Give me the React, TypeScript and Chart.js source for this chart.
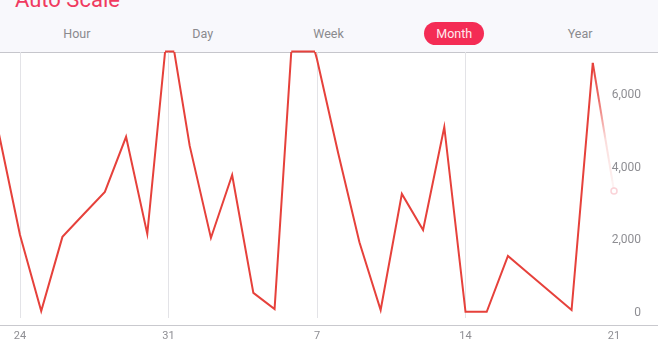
import React, { useEffect, useRef } from 'react';
import { Chart, registerables } from 'chart.js';

Chart.register(...registerables);

// ---- data ----
const days = [
  'Jul 23', 'Jul 24', 'Jul 25', 'Jul 26', 'Jul 27', 'Jul 28', 'Jul 29', 'Jul 30', 'Jul 31',
  'Aug 1', 'Aug 2', 'Aug 3', 'Aug 4', 'Aug 5', 'Aug 6', 'Aug 7', 'Aug 8', 'Aug 9', 'Aug 10',
  'Aug 11', 'Aug 12', 'Aug 13', 'Aug 14', 'Aug 15', 'Aug 16', 'Aug 17', 'Aug 18', 'Aug 19',
  'Aug 20', 'Aug 21',
];
const values = [
  4950, 2150, 60, 2100, 2720, 3335, 4850, 2180, 8150,
  4600, 2070, 3800, 560, 115, 9100, 6980, 4400, 1950, 90,
  3280, 2290, 5120, 40, 40, 1575, 1080, 585, 90,
  6880, 3360,
];
const xTickIndices = [1, 8, 15, 22, 29];
const xTickLabels = ['24', '31', '7', '14', '21'];
const yTickValues = [0, 2000, 4000, 6000];
const segmentLabels = ['Hour', 'Day', 'Week', 'Month', 'Year'];
const selectedSegment = 'Month';
const title = 'Auto Scale';

const LINE = '#e6413b';
const TICK = '#8e8e93';
const FONT = 'Roboto, "Noto Sans", sans-serif';
const LAST = values.length - 1;

const clampTopPlugin = {
  id: 'clampTop',
  afterDatasetsDraw(chart: any) {
    const { ctx, chartArea } = chart;
    const pts = chart.getDatasetMeta(0).data;
    const top = chartArea.top;
    ctx.save();
    ctx.beginPath();
    ctx.rect(chartArea.left, top - 3, chartArea.right - chartArea.left, 6);
    ctx.clip();
    ctx.strokeStyle = LINE;
    ctx.lineWidth = 2;
    ctx.beginPath();
    for (let i = 0; i < pts.length - 1; i++) {
      const a = pts[i];
      const b = pts[i + 1];
      const aAbove = a.y < top;
      const bAbove = b.y < top;
      if (!aAbove && !bAbove) continue;
      let x0 = a.x;
      let x1 = b.x;
      const cross = a.x + ((top - a.y) / (b.y - a.y)) * (b.x - a.x);
      if (!aAbove) x0 = cross;
      if (!bAbove) x1 = cross;
      ctx.moveTo(x0, top - 0.5);
      ctx.lineTo(x1, top - 0.5);
    }
    ctx.stroke();
    ctx.restore();
  },
};

export default function App() {
  const ref = useRef<HTMLCanvasElement | null>(null);

  useEffect(() => {
    const canvas = ref.current!;
    const c2d = canvas.getContext('2d')!;
    const chart = new Chart(canvas, {
      type: 'line',
      data: {
        datasets: [
          {
            data: values.map((v, i) => ({ x: i, y: v })),
            borderColor: LINE,
            borderWidth: 2,
            tension: 0,
            clip: 0,
            pointRadius: (c: any) => (c.dataIndex === LAST ? 3 : 0),
            pointBorderWidth: 1.5,
            pointBorderColor: 'rgba(240,110,125,0.3)',
            pointBackgroundColor: '#ffffff',
            segment: {
              borderColor: (sc: any) => {
                if (sc.p1DataIndex !== LAST) return undefined;
                const g = c2d.createLinearGradient(sc.p0.x, sc.p0.y, sc.p1.x, sc.p1.y);
                g.addColorStop(0, LINE);
                g.addColorStop(0.3, 'rgba(230,65,59,0.75)');
                g.addColorStop(0.6, 'rgba(230,65,59,0.18)');
                g.addColorStop(1, 'rgba(230,65,59,0.05)');
                return g;
              },
            },
          } as any,
        ],
      },
      options: {
        responsive: false,
        animation: false,
        events: [],
        layout: { autoPadding: false, padding: { top: 8, left: 0, right: 0, bottom: 0 } },
        plugins: { legend: { display: false }, tooltip: { enabled: false } },
        scales: {
          x: {
            type: 'linear',
            min: 0.0572,
            max: 31.074,
            afterBuildTicks: (s: any) => {
              s.ticks = xTickIndices.map((v) => ({ value: v }));
            },
            afterFit: (s: any) => {
              s.height = 24;
            },
            ticks: {
              autoSkip: false,
              maxRotation: 0,
              padding: 12,
              color: TICK,
              font: { family: FONT, size: 11 },
              callback: (v: any) => {
                const k = xTickIndices.indexOf(v);
                return k >= 0 ? xTickLabels[k] : '';
              },
            },
            grid: {
              drawTicks: false,
              color: (c: any) => (c.tick && c.tick.value === xTickIndices[xTickIndices.length - 1] ? 'rgba(0,0,0,0)' : '#e3e3e7'),
            },
            border: { display: false },
          },
          y: {
            position: 'right',
            min: -130,
            max: 7180,
            afterBuildTicks: (s: any) => {
              s.ticks = yTickValues.map((v) => ({ value: v }));
            },
            afterFit: (s: any) => {
              s.width = 0;
            },
            ticks: {
              mirror: true,
              padding: -17,
              color: TICK,
              font: { family: FONT, size: 12 },
              callback: (v: any) => Number(v).toLocaleString('en-US'),
            },
            grid: { display: false, drawTicks: false },
            border: { display: false },
          },
        },
      } as any,
      plugins: [clampTopPlugin],
    });
    return () => chart.destroy();
  }, []);

  return (
    <div
      style={{
        position: 'fixed',
        left: 0,
        top: 0,
        width: 658,
        height: 340,
        overflow: 'hidden',
        background: '#ffffff',
        fontFamily: FONT,
      }}
    >
      <div
        style={{
          position: 'absolute',
          left: 0,
          top: 0,
          width: 658,
          height: 52,
          background: '#f8f8fc',
          borderBottom: '1px solid #c6c6cc',
        }}
      >
        <div
          style={{
            position: 'absolute',
            left: 15,
            top: -11,
            fontSize: 22,
            lineHeight: '22px',
            color: '#f03a60',
            whiteSpace: 'nowrap',
          }}
        >
          {title}
        </div>
        <div
          style={{
            position: 'absolute',
            left: 14,
            top: 22,
            width: 629,
            height: 23,
            display: 'flex',
          }}
        >
          {segmentLabels.map((s) => (
            <div
              key={s}
              style={{ flex: 1, display: 'flex', alignItems: 'center', justifyContent: 'center' }}
            >
              <div
                style={{
                  height: 23,
                  lineHeight: '23px',
                  padding: s === selectedSegment ? '0 12px' : 0,
                  borderRadius: 12,
                  background: s === selectedSegment ? '#f42c55' : 'transparent',
                  color: s === selectedSegment ? '#ffe8ee' : '#8a8a8e',
                  fontSize: 12.5,
                }}
              >
                {s}
              </div>
            </div>
          ))}
        </div>
      </div>
      <div
        style={{
          position: 'absolute',
          left: 0,
          top: 325,
          width: 658,
          height: 1,
          background: '#c9c9ce',
        }}
      />
      <canvas
        ref={ref}
        width={658}
        height={298}
        style={{ position: 'absolute', left: 0, top: 44, width: 658, height: 298 }}
      />
    </div>
  );
}
